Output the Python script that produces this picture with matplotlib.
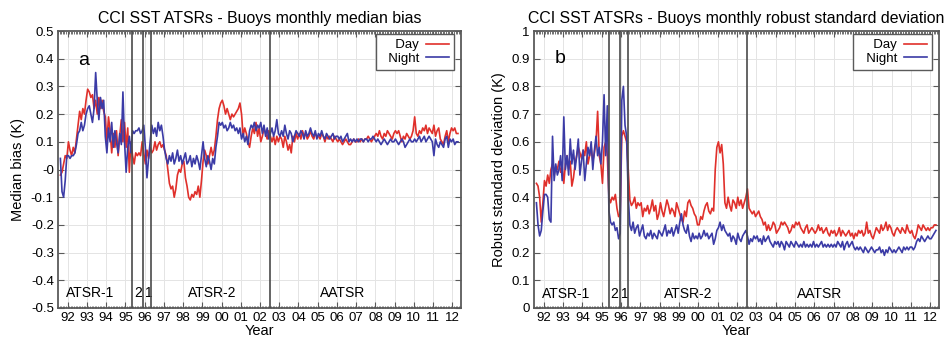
#!/usr/bin/env python
"""CCI SST ATSRs minus buoys: monthly median bias and robust standard deviation."""

import matplotlib

matplotlib.use("Agg")
import matplotlib.pyplot as plt
import numpy as np
from matplotlib.ticker import FixedLocator, FuncFormatter

plt.rcParams["font.family"] = ["Liberation Sans", "DejaVu Sans"]
plt.rcParams["axes.unicode_minus"] = False

FIRST_YEAR, FIRST_MONTH = 1991, 8  # series run Aug 1991 .. Apr 2012

# median bias (K), one line per year
DAY_BIAS = [
    -0.02, -0.01, 0.02, 0.05, 0.04,
    0.10, 0.07, 0.05, 0.08, 0.06, 0.11, 0.16, 0.21, 0.18, 0.22, 0.20, 0.25,
    0.29, 0.28, 0.26, 0.27, 0.22, 0.25, 0.20, 0.26, 0.22, 0.25, 0.21, 0.19,
    0.10, 0.19, 0.14, 0.06, 0.13, 0.08, 0.14, 0.05, 0.12, 0.18, 0.10, 0.17,
    0.08, 0.15, -0.01, 0.10, 0.05, 0.02, 0.06, 0.05, 0.06, 0.05, 0.10, 0.06,
    0.02, 0.07, 0.04, 0.08, 0.06, 0.07, 0.10, 0.07, 0.09, 0.10, 0.08, 0.09,
    0.07, 0.05, 0.00, -0.05, -0.07, -0.06, -0.10, -0.07, -0.02, 0.00, -0.01, 0.02,
    0.03, -0.03, -0.06, -0.10, -0.11, -0.09, -0.10, -0.08, -0.09, -0.06, -0.10, -0.04,
    0.03, 0.07, 0.05, 0.02, 0.05, 0.08, 0.05, 0.07, 0.12, 0.18, 0.22, 0.24,
    0.25, 0.23, 0.20, 0.22, 0.20, 0.18, 0.20, 0.19, 0.20, 0.21, 0.22, 0.24,
    0.20, 0.12, 0.15, 0.13, 0.10, 0.08, 0.12, 0.15, 0.13, 0.17, 0.12, 0.15,
    0.10, 0.12, 0.15, 0.13, 0.11, 0.14, 0.12, 0.10, 0.12, 0.09, 0.12, 0.10,
    0.12, 0.11, 0.08, 0.12, 0.10, 0.07, 0.09, 0.06, 0.12, 0.10, 0.13, 0.11,
    0.13, 0.11, 0.14, 0.12, 0.13, 0.11, 0.12, 0.14, 0.12, 0.11, 0.13, 0.12,
    0.12, 0.11, 0.13, 0.12, 0.10, 0.12, 0.11, 0.12, 0.11, 0.10, 0.12, 0.11,
    0.10, 0.11, 0.10, 0.09, 0.10, 0.11, 0.10, 0.09, 0.09, 0.10, 0.11, 0.10,
    0.10, 0.11, 0.10, 0.11, 0.10, 0.11, 0.11, 0.12, 0.11, 0.10, 0.11, 0.12,
    0.13, 0.12, 0.14, 0.12, 0.11, 0.13, 0.12, 0.14, 0.13, 0.12, 0.11, 0.13,
    0.14, 0.13, 0.14, 0.12, 0.10, 0.12, 0.11, 0.13, 0.12, 0.11, 0.12, 0.14,
    0.19, 0.13, 0.12, 0.14, 0.13, 0.15, 0.14, 0.16, 0.13, 0.15, 0.14, 0.13,
    0.16, 0.12, 0.14, 0.15, 0.11, 0.10, 0.09, 0.12, 0.14, 0.10, 0.13, 0.15,
    0.14, 0.15, 0.13, 0.13,
]
NIGHT_BIAS = [
    0.04, -0.08, -0.10, -0.04, 0.05,
    0.05, 0.04, 0.05, 0.05, 0.06, 0.09, 0.13, 0.14, 0.17, 0.14, 0.16, 0.20,
    0.22, 0.23, 0.20, 0.17, 0.22, 0.35, 0.25, 0.18, 0.26, 0.22, 0.25, 0.12,
    0.06, 0.15, 0.10, 0.17, 0.08, 0.14, 0.10, 0.06, 0.13, 0.09, 0.28, 0.10,
    -0.01, 0.08, 0.12, 0.06, 0.14, 0.13, 0.14, 0.14, 0.15, 0.13, 0.14, 0.16,
    0.08, -0.03, 0.04, 0.10, 0.16, 0.13, 0.15, 0.12, 0.17, 0.14, 0.16, 0.12,
    0.07, 0.04, 0.02, 0.05, 0.03, 0.06, 0.02, 0.04, 0.07, 0.03, 0.05, 0.02,
    0.04, 0.06, 0.02, 0.03, 0.05, 0.01, 0.04, 0.02, 0.05, 0.03, 0.00, 0.05,
    0.10, 0.04, 0.01, 0.05, 0.03, 0.00, 0.04, 0.02, 0.08, 0.12, 0.17, 0.16,
    0.17, 0.15, 0.16, 0.14, 0.15, 0.17, 0.15, 0.16, 0.14, 0.15, 0.13, 0.15,
    0.11, 0.13, 0.10, 0.12, 0.09, 0.14, 0.16, 0.15, 0.17, 0.14, 0.16, 0.15,
    0.17, 0.13, 0.16, 0.12, 0.15, 0.11, 0.13, 0.15, 0.12, 0.14, 0.18, 0.13,
    0.12, 0.14, 0.12, 0.16, 0.13, 0.11, 0.14, 0.13, 0.10, 0.12, 0.14, 0.13,
    0.12, 0.14, 0.13, 0.11, 0.14, 0.12, 0.13, 0.15, 0.13, 0.12, 0.14, 0.11,
    0.13, 0.12, 0.14, 0.12, 0.11, 0.13, 0.12, 0.11, 0.12, 0.13, 0.11, 0.12,
    0.12, 0.11, 0.12, 0.10, 0.11, 0.12, 0.13, 0.10, 0.11, 0.10, 0.11, 0.10,
    0.11, 0.10, 0.11, 0.11, 0.10, 0.11, 0.11, 0.10, 0.11, 0.11, 0.12, 0.11,
    0.10, 0.11, 0.10, 0.09, 0.10, 0.11, 0.10, 0.09, 0.10, 0.11, 0.10, 0.10,
    0.11, 0.10, 0.09, 0.10, 0.11, 0.10, 0.08, 0.09, 0.10, 0.11, 0.10, 0.10,
    0.11, 0.10, 0.11, 0.12, 0.10, 0.11, 0.12, 0.10, 0.11, 0.12, 0.11, 0.10,
    0.05, 0.11, 0.09, 0.08, 0.10, 0.09, 0.08, 0.11, 0.12, 0.08, 0.11, 0.10,
    0.11, 0.09, 0.10, 0.10,
]

# robust standard deviation (K)
DAY_RSD = [
    0.45, 0.44, 0.40, 0.31, 0.38,
    0.46, 0.44, 0.48, 0.45, 0.50, 0.52, 0.48, 0.51, 0.50, 0.53, 0.49, 0.51,
    0.45, 0.52, 0.55, 0.50, 0.53, 0.44, 0.47, 0.52, 0.55, 0.58, 0.56, 0.54,
    0.57, 0.55, 0.60, 0.52, 0.55, 0.58, 0.53, 0.56, 0.60, 0.71, 0.55, 0.52,
    0.45, 0.58, 0.60, 0.55, 0.40, 0.38, 0.40, 0.39, 0.41, 0.36, 0.33, 0.34,
    0.62, 0.64, 0.62, 0.60, 0.50, 0.39, 0.37, 0.38, 0.40, 0.36, 0.38, 0.37,
    0.38, 0.33, 0.36, 0.35, 0.37, 0.34, 0.36, 0.39, 0.35, 0.37, 0.32, 0.34,
    0.38, 0.35, 0.33, 0.36, 0.39, 0.37, 0.34, 0.36, 0.35, 0.33, 0.38, 0.36,
    0.34, 0.32, 0.31, 0.35, 0.33, 0.38, 0.39, 0.37, 0.36, 0.34, 0.33, 0.30,
    0.30, 0.33, 0.32, 0.35, 0.37, 0.38, 0.35, 0.34, 0.36, 0.35, 0.50, 0.58,
    0.60, 0.56, 0.59, 0.52, 0.38, 0.36, 0.40, 0.37, 0.35, 0.39, 0.38, 0.36,
    0.40, 0.37, 0.39, 0.36, 0.38, 0.40, 0.43, 0.36, 0.35, 0.34, 0.35, 0.33,
    0.34, 0.35, 0.33, 0.32, 0.30, 0.31, 0.28, 0.30, 0.28, 0.29, 0.31, 0.30,
    0.27, 0.28, 0.29, 0.31, 0.30, 0.31, 0.30, 0.29, 0.27, 0.28, 0.30, 0.29,
    0.31, 0.30, 0.31, 0.29, 0.28, 0.27, 0.29, 0.30, 0.27, 0.28, 0.29, 0.28,
    0.27, 0.28, 0.30, 0.28, 0.29, 0.27, 0.28, 0.29, 0.27, 0.26, 0.28, 0.27,
    0.28, 0.26, 0.27, 0.29, 0.26, 0.28, 0.27, 0.26, 0.27, 0.28, 0.26, 0.27,
    0.25, 0.27, 0.26, 0.28, 0.27, 0.28, 0.26, 0.27, 0.31, 0.27, 0.28, 0.26,
    0.25, 0.27, 0.29, 0.28, 0.27, 0.30, 0.28, 0.29, 0.31, 0.28, 0.30, 0.29,
    0.27, 0.26, 0.28, 0.29, 0.28, 0.27, 0.29, 0.28, 0.27, 0.30, 0.28, 0.27,
    0.28, 0.26, 0.25, 0.27, 0.30, 0.29, 0.28, 0.30, 0.29, 0.28, 0.29, 0.28,
    0.29, 0.29, 0.30, 0.30,
]
NIGHT_RSD = [
    0.38, 0.30, 0.26, 0.28, 0.35,
    0.41, 0.41, 0.40, 0.32, 0.31, 0.62, 0.46, 0.52, 0.48, 0.50, 0.55, 0.46,
    0.69, 0.50, 0.55, 0.48, 0.61, 0.52, 0.57, 0.50, 0.55, 0.61, 0.48, 0.53,
    0.57, 0.46, 0.52, 0.58, 0.55, 0.60, 0.50, 0.57, 0.62, 0.55, 0.58, 0.52,
    0.60, 0.77, 0.55, 0.73, 0.35, 0.31, 0.30, 0.31, 0.28, 0.29, 0.25, 0.27,
    0.75, 0.80, 0.66, 0.62, 0.40, 0.30, 0.28, 0.31, 0.27, 0.29, 0.30, 0.26,
    0.28, 0.30, 0.26, 0.25, 0.27, 0.26, 0.28, 0.25, 0.27, 0.26, 0.25, 0.28,
    0.27, 0.26, 0.28, 0.30, 0.26, 0.28, 0.27, 0.29, 0.26, 0.28, 0.30, 0.27,
    0.31, 0.34, 0.30, 0.28, 0.27, 0.30, 0.26, 0.24, 0.27, 0.25, 0.26, 0.25,
    0.27, 0.25, 0.26, 0.28, 0.26, 0.27, 0.25, 0.26, 0.27, 0.23, 0.25, 0.28,
    0.29, 0.31, 0.28, 0.30, 0.28, 0.27, 0.26, 0.27, 0.24, 0.26, 0.25, 0.23,
    0.27, 0.25, 0.24, 0.26, 0.27, 0.28, 0.26, 0.23, 0.25, 0.24, 0.26, 0.25,
    0.26, 0.24, 0.25, 0.23, 0.26, 0.24, 0.25, 0.26, 0.24, 0.23, 0.22, 0.24,
    0.23, 0.24, 0.22, 0.24, 0.23, 0.21, 0.24, 0.23, 0.22, 0.24, 0.23, 0.22,
    0.24, 0.23, 0.22, 0.23, 0.22, 0.24, 0.22, 0.23, 0.22, 0.23, 0.22, 0.24,
    0.22, 0.23, 0.22, 0.23, 0.24, 0.22, 0.23, 0.22, 0.23, 0.22, 0.23, 0.22,
    0.23, 0.22, 0.24, 0.23, 0.22, 0.24, 0.21, 0.23, 0.24, 0.22, 0.23, 0.24,
    0.22, 0.21, 0.22, 0.21, 0.22, 0.21, 0.20, 0.22, 0.21, 0.20, 0.21, 0.22,
    0.21, 0.20, 0.21, 0.21, 0.22, 0.20, 0.21, 0.19, 0.21, 0.20, 0.22, 0.21,
    0.20, 0.21, 0.20, 0.21, 0.22, 0.21, 0.20, 0.22, 0.21, 0.22, 0.21, 0.22,
    0.22, 0.21, 0.22, 0.24, 0.25, 0.24, 0.26, 0.25, 0.24, 0.25, 0.26, 0.25,
    0.25, 0.26, 0.27, 0.28,
]

SENSOR_CHANGES = [1995.37, 1995.94, 1996.36, 2002.53]
PERIOD_LABELS = ["ATSR-1", "2", "1", "ATSR-2", "AATSR"]
PERIOD_LABEL_X = [1993.17, 1995.67, 1996.2, 1999.5, 2006.28]
YEARS = list(range(1992, 2013))
YEAR_LABELS = [f"{y % 100:02d}" for y in YEARS]
SERIES_LABELS = ["Day", "Night"]

DAY_COLOR = "#e0302b"
NIGHT_COLOR = "#3b3ba6"
FRAME_COLOR = "#5a5a5a"
GRID_COLOR = "#e4e4e4"


def month_positions(n):
    months = FIRST_MONTH - 1 + np.arange(n)
    return FIRST_YEAR + (months + 0.5) / 12.0


def draw_panel(ax, day, night, title, ylabel, ylim, yticks, letter, letter_y, period_y):
    x = month_positions(len(day))
    # leading spaces widen the key box on the left, as in the original
    ax.plot(x, day, color=DAY_COLOR, lw=1.2, label="  " + SERIES_LABELS[0], zorder=3)
    ax.plot(x, night, color=NIGHT_COLOR, lw=1.2, label="  " + SERIES_LABELS[1], zorder=3)

    for xc in SENSOR_CHANGES:
        ax.axvline(xc, color="#4a4a4a", lw=1.2, zorder=4)
    for lab, xl in zip(PERIOD_LABELS, PERIOD_LABEL_X):
        ax.text(xl, period_y, lab, ha="center", va="center", fontsize=10)
    ax.text(1992.83, letter_y, letter, ha="center", va="center", fontsize=14)

    ax.set_xlim(1991.5, 2012.45)
    ax.set_ylim(*ylim)
    ax.xaxis.set_major_locator(FixedLocator(YEARS))
    ax.set_xticklabels(YEAR_LABELS)
    ax.xaxis.set_minor_locator(FixedLocator(np.arange(1991.5, 2012.5, 1 / 12)))
    ax.yaxis.set_major_locator(FixedLocator(yticks))
    ax.yaxis.set_major_formatter(FuncFormatter(lambda v, _: f"{round(v, 2):g}"))

    ax.tick_params(which="both", direction="in", top=True, right=True,
                   color=FRAME_COLOR, labelsize=9.5)
    ax.tick_params(which="major", length=4, width=0.8, pad=3)
    ax.tick_params(which="minor", length=1.8, width=0.6)
    ax.grid(True, which="major", color=GRID_COLOR, lw=0.7, zorder=0)
    for sp in ax.spines.values():
        sp.set_color(FRAME_COLOR)
        sp.set_linewidth(1.3)

    ax.set_title(title, fontsize=11.4, pad=6)
    ax.set_ylabel(ylabel, fontsize=10.5, labelpad=4)
    ax.set_xlabel("Year", fontsize=10.5, labelpad=0)

    leg = ax.legend(loc="upper right", bbox_to_anchor=(0.983, 0.99),
                    markerfirst=False, fancybox=False, framealpha=1,
                    edgecolor=FRAME_COLOR, fontsize=9.5, handlelength=1.7,
                    handletextpad=0.55, borderpad=0.4, labelspacing=0.1,
                    borderaxespad=0)
    leg.get_frame().set_linewidth(1.0)
    for t in leg.get_texts():
        t.set_ha("right")


def main():
    fig = plt.figure(figsize=(9.53, 3.38), dpi=100)
    ax_a = fig.add_axes([58 / 953, 30 / 338, 403 / 953, 277 / 338])
    ax_b = fig.add_axes([534 / 953, 30 / 338, 405 / 953, 277 / 338])

    draw_panel(ax_a, DAY_BIAS, NIGHT_BIAS,
               "CCI SST ATSRs - Buoys monthly median bias", "Median bias (K)",
               (-0.5, 0.5), np.round(np.arange(-0.5, 0.51, 0.1), 1), "a", 0.395, -0.446)
    draw_panel(ax_b, DAY_RSD, NIGHT_RSD,
               "CCI SST ATSRs - Buoys monthly robust standard deviation",
               "Robust standard deviation (K)",
               (0.0, 1.0), np.round(np.arange(0.0, 1.01, 0.1), 1), "b", 0.9025, 0.05)

    fig.savefig("out.png", dpi=100, facecolor="white")
    plt.close(fig)


if __name__ == "__main__":
    main()
